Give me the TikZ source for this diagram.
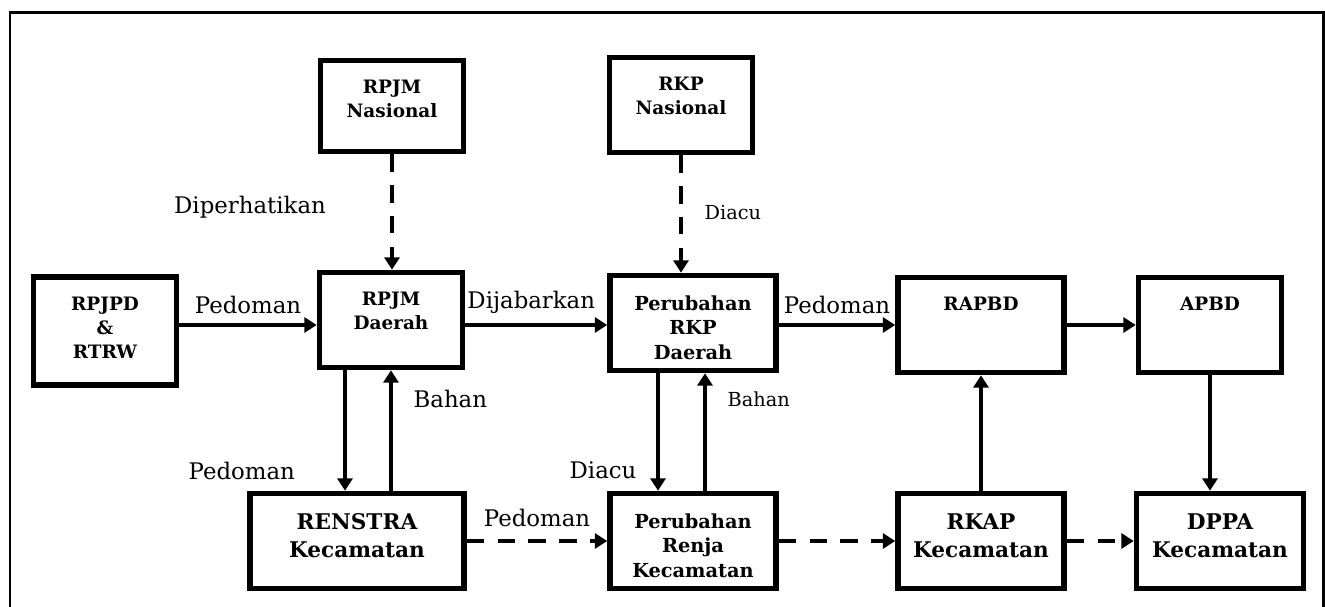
\documentclass[tikz,border=0pt]{standalone}
\usepackage{fontspec}
\setmainfont{DejaVu Serif}
\usetikzlibrary{arrows.meta,calc,positioning}
\tikzset{
  box/.style 2 args={
    draw=black,
    line width=3.2pt,
    rectangle,
    inner sep=0pt,
    font={\fontsize{10.5}{13.6}\selectfont\bfseries},
    execute at begin node={\begin{minipage}[c][#2][t]{#1}\centering\vspace*{0.4cm}},
    execute at end node={\end{minipage}},
  },
}
\tikzstyle{midtext}=[font={\fontsize{11}{13.9}\selectfont\bfseries}]
\tikzstyle{bigtext}=[font={\fontsize{12.3}{15.9}\selectfont\bfseries}]
\tikzstyle{arrow}=[
  draw=black,
  line width=2pt,
]
\tikzstyle{lbl}=[
  font={\fontsize{13}{15}\selectfont},
]
\tikzstyle{smalllbl}=[
  font={\fontsize{11}{13}\selectfont},
]
\tikzset{
  >={Triangle[length=7pt,width=8.5pt]},
  dashline/.style={dash pattern=on 10pt off 7.5pt},
}
\begin{document}
\begin{tikzpicture}[x=0.02cm, y=-0.02cm]
      \useasboundingbox (0,0) rectangle (1325,607);
      \draw [line width=1.7pt] (10,13) rectangle (1323,620);
      %% top row
      \node (rpjmn) [box={2.86cm}{1.82cm}] at (392,106) {RPJM\\Nasional};
      \node (rkpn) [box={2.86cm}{1.9cm}] at (681,105) {RKP\\Nasional};
      %% middle row
      \node (rpjpd) [box={2.86cm}{2.16cm}] at (105,331) {RPJPD\\\&\\RTRW};
      \node (rpjmd) [box={2.86cm}{1.9cm}] at (391,320) {RPJM\\Daerah};
      \node (rkpd) [box={3.32cm}{1.9cm}, midtext] at (693,323) {Perubahan\\RKP\\Daerah};
      \node (rapbd) [box={3.32cm}{1.9cm}] at (981,325) {RAPBD};
      \node (apbd) [box={2.86cm}{1.9cm}] at (1210,325) {APBD};
      \coordinate (mainrow) at (0,325);
      %% bottom row
      \node (renstra) [box={4.28cm}{1.9cm}, bigtext] at (357,541) {RENSTRA\\Kecamatan};
      \node (renja) [box={3.32cm}{1.9cm}, midtext] at (693,541) {Perubahan\\Renja\\Kecamatan};
      \node (rkap) [box={3.32cm}{1.9cm}, bigtext] at (981,541) {RKAP\\Kecamatan};
      \node (dppa) [box={3.34cm}{1.9cm}, bigtext] at (1220,541) {DPPA\\Kecamatan};
      %% dashed from above
      \draw [->, arrow, dashline] (rpjmn) -- (rpjmn.south |- rpjmd.north);
      \node (lbldiperhatikan) [lbl] at (250,207) {Diperhatikan};
      \draw [->, arrow, dashline] (rkpn) -- (rkpn.south |- rkpd.north)
        node [smalllbl, right=0.32cm, pos=0.49] (lbldiacu) {Diacu};
      %% main row
      \draw [->, arrow] (rpjpd.east |- mainrow) -- node [lbl, above=2pt] (lblpedoman) {Pedoman} (rpjmd.west |- mainrow);
      \draw [->, arrow] (rpjmd.east |- mainrow) -- node [lbl, above=2pt, xshift=-0.1cm] (lbldijabarkan) {Dijabarkan} (rkpd.west |- mainrow);
      \draw [->, arrow] (rkpd.east |- mainrow) -- node [lbl, above=2pt] (lblpedomanb) {Pedoman} (rapbd.west |- mainrow);
      \draw [->, arrow] (rapbd.east |- mainrow) -- (apbd.west |- mainrow);
      %% up and down
      \draw [->, arrow] ($(rpjmd.south)+(-46,0)$) -- ($(rpjmd.south |- renstra.north)+(-46,0)$)
        node [lbl, left=0.85cm, pos=0.84] (lblpedomanc) {Pedoman};
      \draw [->, arrow] (rpjmd.south |- renstra.north) -- (rpjmd.south)
        node [lbl, right=0.3cm, pos=0.76] (lblbahan) {Bahan};
      \draw [->, arrow] ($(rkpd.south)+(-35,0)$) -- ($(rkpd.south |- renja.north)+(-35,0)$)
        node [lbl, left=0.28cm, pos=0.83] (lbldiacub) {Diacu};
      \draw [->, arrow] ($(rkpd.south |- renja.north)+(12,0)$) -- ($(rkpd.south)+(12,0)$)
        node [smalllbl, right=0.3cm, pos=0.78] (lblbahanb) {Bahan};
      \draw [->, arrow] (rkap) -- (rapbd);
      \draw [->, arrow] (apbd) -- (apbd.south |- dppa.north);
      %% bottom row
      \draw [->, arrow, dashline] (renstra) -- node [lbl, above=4pt] (lblpedomand) {Pedoman} (renja);
      \draw [->, arrow, dashline] (renja) -- (rkap);
      \draw [->, arrow, dashline] (rkap) -- (dppa);
\end{tikzpicture}
\end{document}
